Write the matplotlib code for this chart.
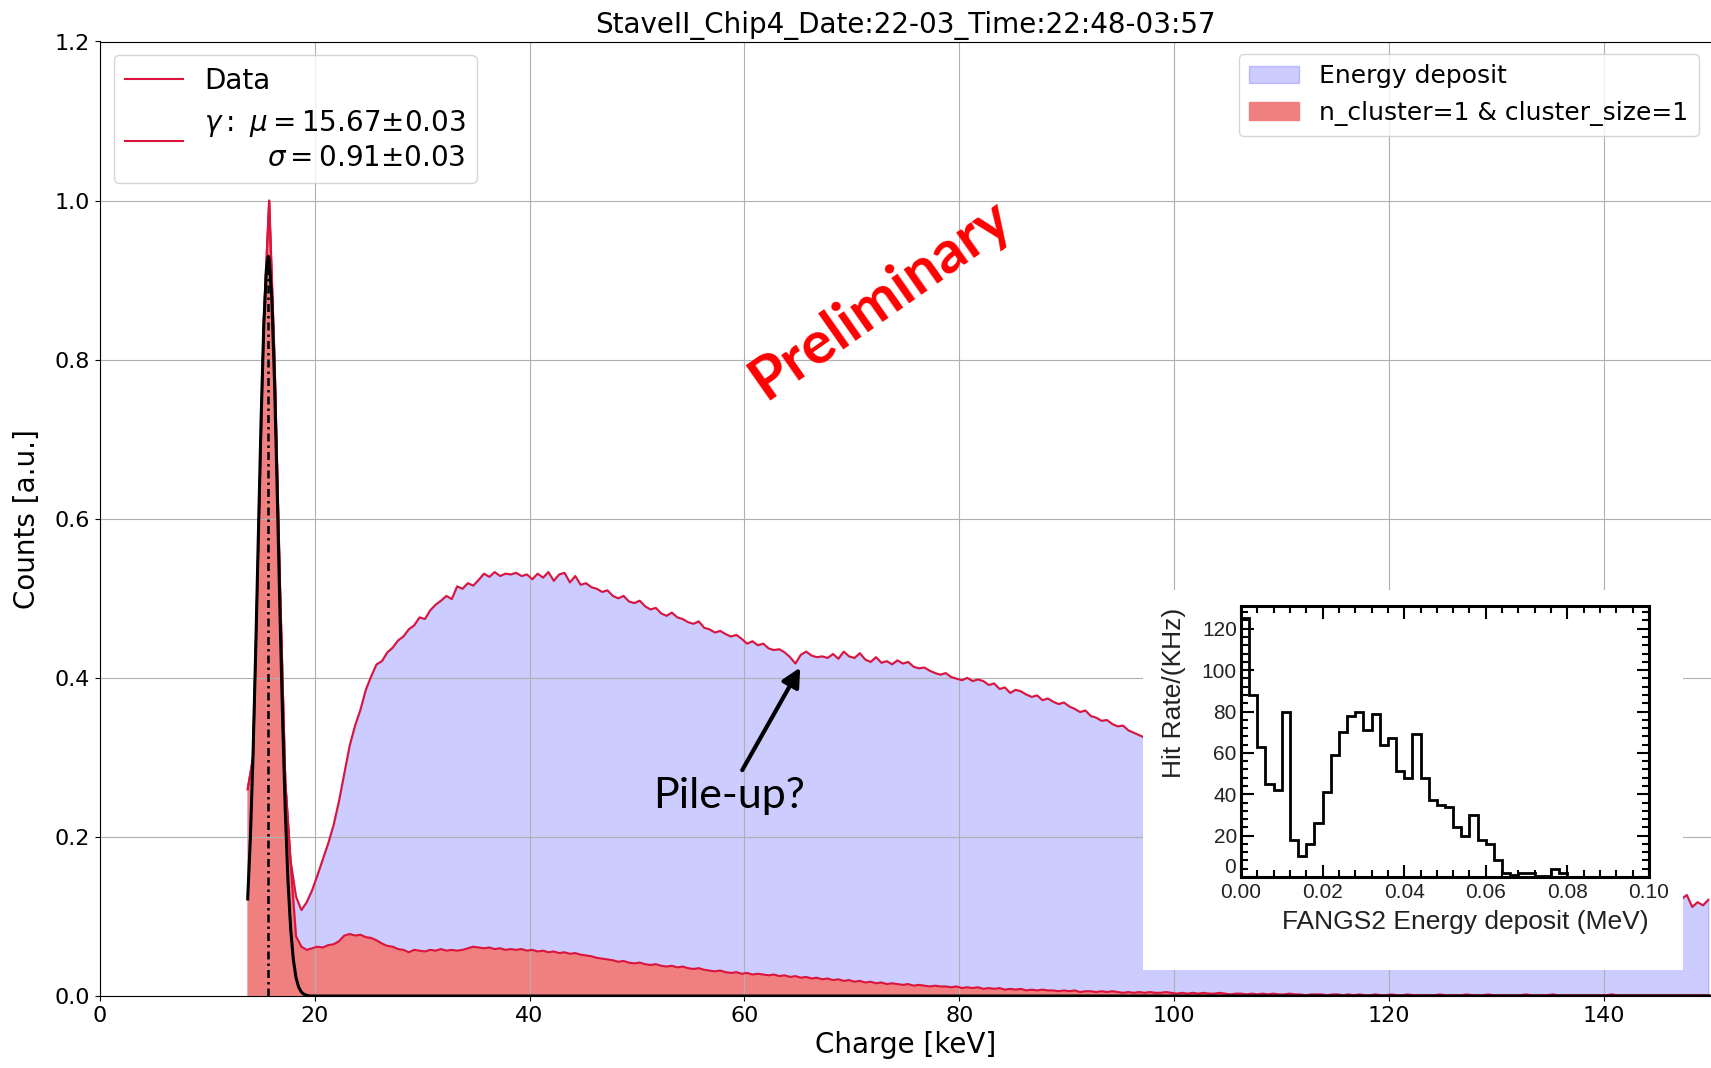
import numpy as np
import matplotlib.pyplot as plt
from matplotlib.lines import Line2D
from matplotlib.ticker import MultipleLocator, FormatStrFormatter, FuncFormatter

# bin centres of the charge spectrum [keV]
charge = np.arange(13.75, 150.0, 0.5)

# all clusters ("Energy deposit")
energy_deposit = [
    0.26, 0.30, 0.57, 0.85, 1.00, 0.80, 0.52, 0.27, 0.17, 0.125,
    0.108, 0.118, 0.133, 0.152, 0.172, 0.192, 0.215, 0.245, 0.280, 0.315,
    0.340, 0.360, 0.385, 0.402, 0.417, 0.421, 0.432, 0.438, 0.447, 0.452,
    0.461, 0.466, 0.476, 0.474, 0.485, 0.492, 0.497, 0.503, 0.499, 0.515,
    0.512, 0.519, 0.516, 0.523, 0.531, 0.527, 0.533, 0.528, 0.531, 0.530,
    0.532, 0.528, 0.530, 0.524, 0.531, 0.526, 0.533, 0.522, 0.530, 0.532,
    0.520, 0.528, 0.517, 0.519, 0.514, 0.512, 0.508, 0.510, 0.503, 0.500,
    0.503, 0.496, 0.494, 0.497, 0.490, 0.486, 0.488, 0.481, 0.478, 0.482,
    0.476, 0.474, 0.470, 0.468, 0.471, 0.463, 0.461, 0.457, 0.459, 0.455,
    0.452, 0.454, 0.449, 0.443, 0.446, 0.441, 0.443, 0.437, 0.435, 0.436,
    0.432, 0.426, 0.418, 0.429, 0.433, 0.428, 0.426, 0.427, 0.425, 0.430,
    0.424, 0.433, 0.427, 0.425, 0.431, 0.423, 0.420, 0.426, 0.419, 0.421,
    0.417, 0.422, 0.418, 0.420, 0.414, 0.412, 0.413, 0.409, 0.406, 0.404,
    0.406, 0.401, 0.399, 0.397, 0.400, 0.396, 0.398, 0.396, 0.391, 0.393,
    0.386, 0.388, 0.381, 0.385, 0.383, 0.379, 0.376, 0.378, 0.372, 0.374,
    0.370, 0.367, 0.369, 0.364, 0.361, 0.357, 0.359, 0.352, 0.350, 0.346,
    0.347, 0.342, 0.339, 0.340, 0.334, 0.331, 0.328, 0.325, 0.322, 0.319,
    0.318, 0.311, 0.313, 0.305, 0.306, 0.299, 0.301, 0.293, 0.295, 0.288,
    0.287, 0.281, 0.283, 0.276, 0.275, 0.270, 0.271, 0.264, 0.263, 0.258,
    0.259, 0.252, 0.253, 0.247, 0.248, 0.241, 0.243, 0.236, 0.238, 0.231,
    0.233, 0.226, 0.228, 0.221, 0.223, 0.217, 0.218, 0.212, 0.214, 0.208,
    0.209, 0.203, 0.206, 0.199, 0.201, 0.195, 0.197, 0.191, 0.193, 0.187,
    0.189, 0.183, 0.185, 0.179, 0.182, 0.176, 0.178, 0.172, 0.175, 0.169,
    0.171, 0.166, 0.168, 0.163, 0.165, 0.160, 0.162, 0.157, 0.159, 0.154,
    0.156, 0.151, 0.153, 0.148, 0.151, 0.146, 0.148, 0.143, 0.146, 0.141,
    0.143, 0.139, 0.141, 0.136, 0.139, 0.134, 0.137, 0.132, 0.135, 0.130,
    0.133, 0.128, 0.131, 0.126, 0.129, 0.124, 0.128, 0.122, 0.127, 0.112,
    0.118, 0.114, 0.121,
]

# n_cluster=1 & cluster_size=1
single_pixel = [
    0.26, 0.30, 0.57, 0.85, 1.00, 0.80, 0.52, 0.27, 0.165, 0.075,
    0.062, 0.058, 0.060, 0.062, 0.061, 0.064, 0.065, 0.069, 0.076, 0.078,
    0.076, 0.077, 0.074, 0.073, 0.070, 0.066, 0.063, 0.062, 0.059, 0.058,
    0.055, 0.058, 0.057, 0.056, 0.058, 0.057, 0.059, 0.057, 0.058, 0.057,
    0.058, 0.060, 0.062, 0.061, 0.060, 0.061, 0.059, 0.060, 0.058, 0.059,
    0.058, 0.059, 0.057, 0.058, 0.056, 0.057, 0.055, 0.056, 0.054, 0.055,
    0.053, 0.054, 0.052, 0.051, 0.050, 0.048, 0.047, 0.046, 0.045, 0.043,
    0.044, 0.042, 0.041, 0.042, 0.040, 0.039, 0.040, 0.038, 0.037, 0.038,
    0.036, 0.037, 0.035, 0.034, 0.035, 0.033, 0.032, 0.031, 0.032, 0.030,
    0.029, 0.030, 0.028, 0.029, 0.027, 0.028, 0.027, 0.026, 0.027, 0.025,
    0.026, 0.024, 0.025, 0.023, 0.024, 0.022, 0.023, 0.021, 0.022, 0.020,
    0.021, 0.019, 0.020, 0.018, 0.019, 0.017, 0.018, 0.016, 0.017, 0.015,
    0.016, 0.015, 0.014, 0.015, 0.013, 0.014, 0.013, 0.012, 0.013, 0.012,
    0.012, 0.011, 0.012, 0.010, 0.011, 0.010, 0.011, 0.009, 0.010, 0.009,
    0.010, 0.008, 0.009, 0.008, 0.009, 0.007, 0.008, 0.007, 0.008, 0.007,
    0.007, 0.006, 0.007, 0.006, 0.007, 0.005, 0.006, 0.006, 0.005, 0.006,
    0.005, 0.006, 0.005, 0.004, 0.005, 0.004, 0.005, 0.004, 0.005, 0.004,
    0.004, 0.005, 0.004, 0.003, 0.004, 0.003, 0.004, 0.003, 0.004, 0.003,
    0.003, 0.004, 0.003, 0.002, 0.003, 0.003, 0.002, 0.003, 0.002, 0.003,
    0.002, 0.003, 0.002, 0.002, 0.003, 0.002, 0.002, 0.001, 0.002, 0.002,
    0.002, 0.001, 0.002, 0.002, 0.001, 0.002, 0.001, 0.002, 0.001, 0.001,
    0.002, 0.001, 0.001, 0.002, 0.001, 0.001, 0.002, 0.001, 0.001, 0.001,
    0.001, 0.001, 0.002, 0.001, 0.001, 0.001, 0.001, 0.002, 0.001, 0.001,
    0.001, 0.002, 0.001, 0.001, 0.001, 0.001, 0.001, 0.001, 0.002, 0.001,
    0.001, 0.001, 0.001, 0.002, 0.001, 0.001, 0.001, 0.001, 0.001, 0.001,
    0.001, 0.001, 0.001, 0.001, 0.002, 0.001, 0.001, 0.001, 0.001, 0.001,
    0.001, 0.001, 0.001, 0.001, 0.001, 0.001, 0.001, 0.001, 0.001, 0.001,
    0.001, 0.001, 0.001,
]

# gaussian fit of the 15.67 keV line
fit_x = [13.75, 14.0, 14.25, 14.5, 14.75, 15.0, 15.25, 15.5, 15.67, 15.75,
         16.0, 16.25, 16.5, 16.75, 17.0, 17.25, 17.5, 17.75, 18.0, 18.25,
         18.5, 18.75, 19.0, 19.5, 150.0]
fit_y = [0.122, 0.198, 0.304, 0.436, 0.582, 0.725, 0.843, 0.915, 0.930, 0.927,
         0.875, 0.772, 0.635, 0.487, 0.349, 0.233, 0.145, 0.085, 0.046, 0.023,
         0.011, 0.005, 0.002, 0.0, 0.0]
fit_mu = 15.67
fit_top = 0.93

# inset: FANGS2 hit rate histogram
fangs_edges = np.arange(0.0, 0.1001, 0.002)
fangs_rate = [
    125, 88, 63, 45, 42, 80, 18, 10, 16, 26,
    41, 59, 70, 78, 80, 71, 79, 64, 67, 51,
    48, 69, 48, 37, 35, 34, 24, 20, 30, 18,
    16, 8, 2, 1, 2, 2, 0.5, 0.5, 4, 2,
    0, 0, 0, 0, 0, 0, 0, 0, 0, 0,
]

title = "StaveII_Chip4_Date:22-03_Time:22:48-03:57"
gamma_label = (r"$\gamma:\ \mu=15.67{\pm}0.03$" + "\n"
               + r"$\sigma=0.91{\pm}0.03$")

W, H = 1711, 1068
fig = plt.figure(figsize=(W / 100, H / 100), dpi=100)
ax = fig.add_axes([100 / W, 72 / H, 1611 / W, 954.5 / H])

blue_fill = ax.fill_between(charge, energy_deposit, color="blue", alpha=0.2)
data_line, = ax.plot(charge, energy_deposit, color="crimson", lw=1.5)
red_fill = ax.fill_between(charge, single_pixel, color="lightcoral")
ax.plot(charge, single_pixel, color="crimson", lw=1.5)

ax.plot(fit_x, fit_y, color="black", lw=2.2, zorder=3)
ax.vlines(fit_mu, 0, fit_top, colors="black", lw=1.8,
          linestyles=(0, (3.2, 1.6, 1, 1.6)), zorder=3)

ax.set_xlim(0, 150)
ax.set_ylim(0, 1.2)
ax.set_xticks(np.arange(0, 141, 20))
ax.set_yticks(np.arange(0, 1.21, 0.2))
ax.tick_params(labelsize=16)
ax.grid(True)
ax.spines["right"].set_visible(False)
ax.set_xlabel("Charge [keV]", fontsize=20)
ax.set_ylabel("Counts [a.u.]", fontsize=20, labelpad=10)
ax.set_title(title, fontsize=20)

leg1 = ax.legend([data_line, Line2D([], [], color="crimson", lw=1.5)],
                 ["Data", gamma_label], loc="upper left", fontsize=20,
                 handlelength=2.1, handletextpad=0.75)
leg1.get_texts()[1].set_multialignment("right")
ax.add_artist(leg1)
ax.legend([blue_fill, red_fill],
          ["Energy deposit", "n_cluster=1 & cluster_size=1"],
          loc="upper right", fontsize=18)

ax.text(72.7, 0.875, "Preliminary", color="red", fontsize=43,
        fontweight="bold", family="Lato", rotation=35,
        ha="center", va="center", rotation_mode="anchor")

ax.annotate("", xy=(65.2, 0.413), xytext=(59.8, 0.284),
            arrowprops=dict(arrowstyle="-|>", color="black", lw=3,
                            mutation_scale=28, shrinkA=0, shrinkB=0))
ax.text(58.6, 0.252, "Pile-up?", fontsize=31, family="Lato",
        ha="center", va="center")

# pasted inset picture: white card + ROOT style histogram
card = fig.add_axes([1143 / W, (H - 970) / H, 540 / W, 380 / H])
card.set_facecolor("white")
card.set_xticks([])
card.set_yticks([])
for s in card.spines.values():
    s.set_visible(False)

ink = "#222222"
ins = fig.add_axes([1241 / W, (H - 877) / H, 408 / W, 271 / H])
ins.stairs(fangs_rate, fangs_edges, color="black", lw=2)
ins.set_xlim(0, 0.1)
ins.set_ylim(0, 131)
ins.xaxis.set_major_locator(MultipleLocator(0.02))
ins.xaxis.set_minor_locator(MultipleLocator(0.004))
ins.yaxis.set_major_locator(MultipleLocator(20))
ins.yaxis.set_minor_locator(MultipleLocator(4))
ins.xaxis.set_major_formatter(FormatStrFormatter("%.2f"))
# the y "0" is written separately, sitting just above "0.00"
ins.yaxis.set_major_formatter(FuncFormatter(
    lambda v, pos: "" if v == 0 else f"{v:.0f}"))
ins.tick_params(which="both", direction="in", top=True, right=True,
                width=1.5, color="black", labelcolor=ink, labelsize=15,
                pad=4)
ins.tick_params(which="major", length=9)
ins.tick_params(which="minor", length=5)
ins.tick_params(axis="y", pad=3)
for lab in ins.get_xticklabels() + ins.get_yticklabels():
    lab.set_family("Liberation Sans")
ins.text(-0.012, 0.0, "0", transform=ins.transAxes, ha="right", va="bottom",
         fontsize=15, color=ink, family="Liberation Sans")
for s in ins.spines.values():
    s.set_linewidth(2.2)
ins.text(1.0, -0.165, "FANGS2 Energy deposit (MeV)", transform=ins.transAxes,
         ha="right", va="center", fontsize=19, color=ink,
         family="Liberation Sans")
ins.text(-0.165, 0.995, "Hit Rate/(KHz)", transform=ins.transAxes,
         rotation=90, ha="center", va="top", fontsize=19, color=ink,
         family="Liberation Sans")

fig.savefig("out.png", dpi=100)
